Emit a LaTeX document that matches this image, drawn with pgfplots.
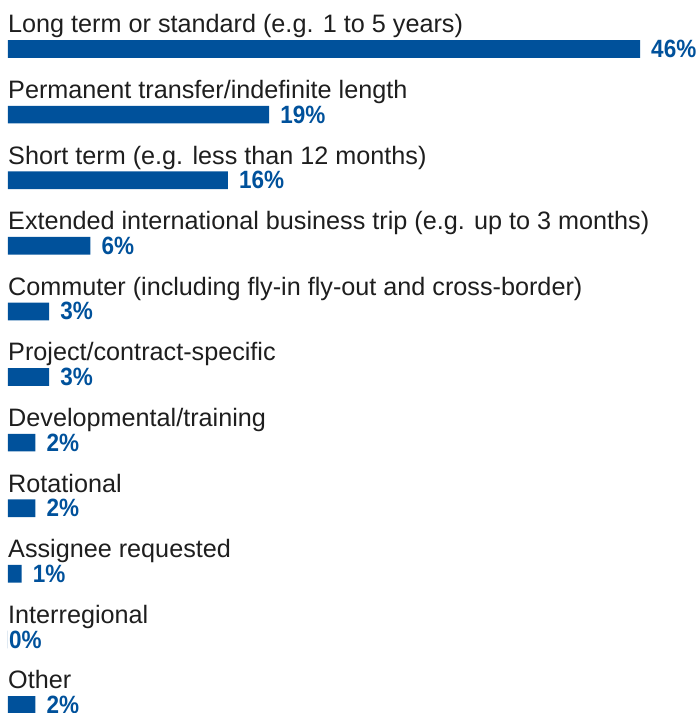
\documentclass[border=0pt]{standalone}
\usepackage{fontspec}
\setmainfont{Liberation Sans}
\usepackage{pgfplots}
\pgfplotsset{compat=1.18}
\definecolor{kblue}{HTML}{00519B}
\definecolor{ktext}{HTML}{1E1E1E}
\tikzset{lab/.style={anchor=base west, inner sep=0pt, yshift=16.2pt, font=\fontsize{25.2}{25}\selectfont, text=ktext}}
\begin{document}
\begin{tikzpicture}
\useasboundingbox (0,0) rectangle (700pt,713pt);
\begin{axis}[
  at={(8pt,8pt)}, anchor=south west,
  scale only axis, width=687pt, height=656pt,
  xmin=0, xmax=50, ymin=0, ymax=10, y dir=reverse,
  hide axis, clip=false,
  xbar, bar width=17.7pt, bar shift=0pt,
  point meta=x,
  /pgf/number format/assume math mode=true,
  nodes near coords={\scalebox{0.9}[1]{\pgfmathprintnumber{\pgfplotspointmeta}\%}},
  nodes near coords style={font=\fontsize{25}{25}\selectfont\bfseries, text=kblue, anchor=west, inner sep=0pt, xshift=11pt},
  coordinate style/.condition={x==0}{xshift=-10pt},
]
\addplot[fill=kblue, draw=none] coordinates {
  (46,0) (19,1) (16,2) (6,3) (3,4) (3,5) (2,6) (2,7) (1,8) (0,9) (2,10)};
\node[lab] at (axis cs:0,0) {Long term or standard (e.g. 1 to 5 years)};
\node[lab] at (axis cs:0,1) {Permanent transfer/indefinite length};
\node[lab] at (axis cs:0,2) {Short term (e.g. less than 12 months)};
\node[lab] at (axis cs:0,3) {Extended international business trip (e.g. up to 3 months)};
\node[lab] at (axis cs:0,4) {Commuter (including fly-in fly-out and cross-border)};
\node[lab] at (axis cs:0,5) {Project/contract-specific};
\node[lab] at (axis cs:0,6) {Developmental/training};
\node[lab] at (axis cs:0,7) {Rotational};
\node[lab] at (axis cs:0,8) {Assignee requested};
\node[lab] at (axis cs:0,9) {Interregional};
\node[lab] at (axis cs:0,10) {Other};
\end{axis}
\end{tikzpicture}
\end{document}
